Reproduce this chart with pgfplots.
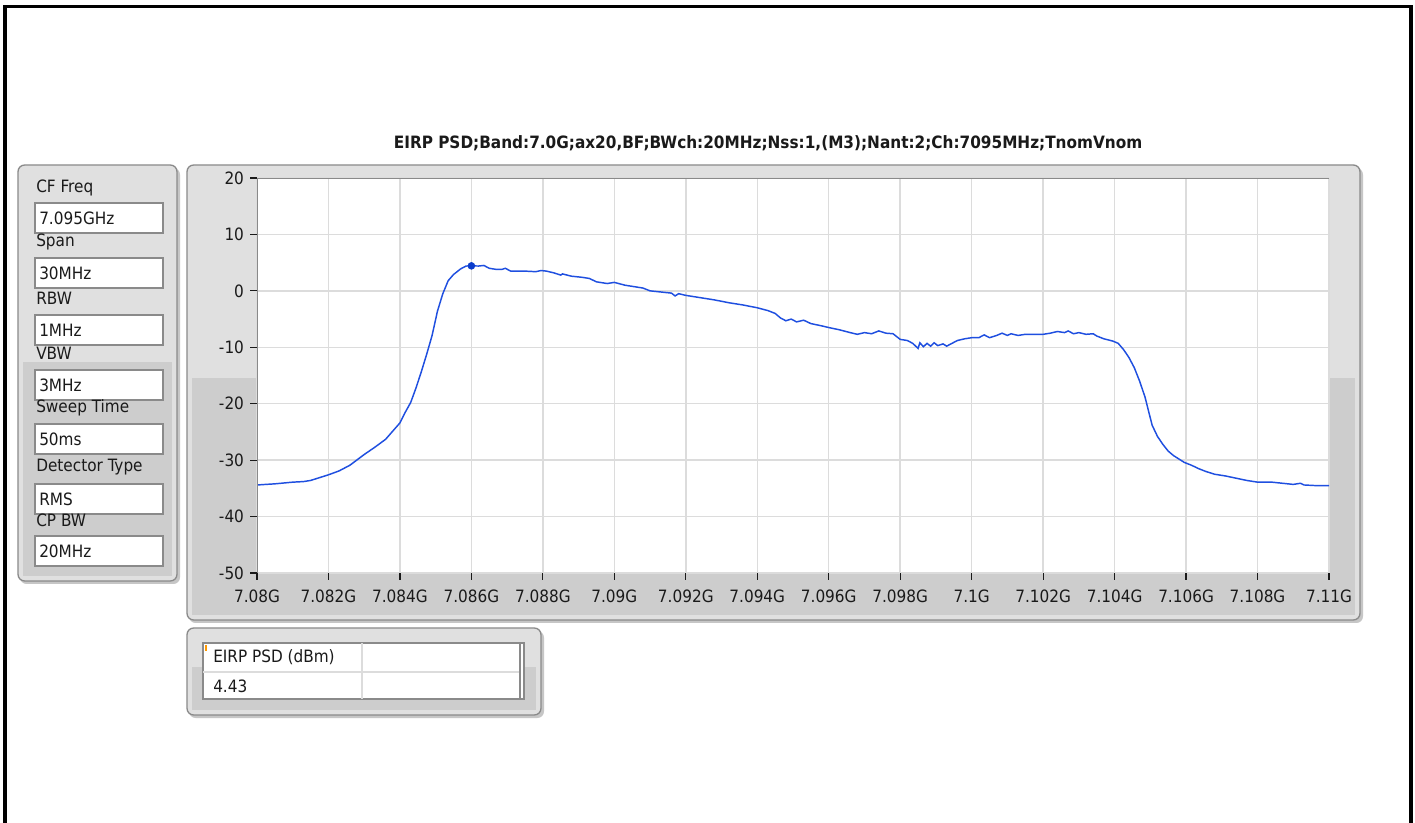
\documentclass[border=0pt]{standalone}
\usepackage{fontspec}
\setmainfont{DejaVu Sans Condensed}
\usepackage{pgfplots}
\pgfplotsset{compat=1.18}
\definecolor{panelL}{HTML}{E0E0E0}
\definecolor{panelD}{HTML}{CDCDCD}
\definecolor{gridc}{HTML}{DCDCDC}
\definecolor{curve}{HTML}{1F4FE0}
\definecolor{mark}{HTML}{0A3CCC}
\definecolor{txt}{HTML}{1A1A1A}
\definecolor{edge}{HTML}{8A8A8A}
\newcommand{\ui}{\fontsize{12.75}{15}\selectfont}
\pgfplotstableread{
f db
7080.0 -34.4
7080.5 -34.2
7081.0 -33.9
7081.3 -33.8
7081.5 -33.6
7082.0 -32.6
7082.3 -31.9
7082.6 -30.9
7083.0 -29.0
7083.3 -27.7
7083.6 -26.3
7084.0 -23.4
7084.15 -21.5
7084.3 -19.8
7084.45 -17.2
7084.6 -14.3
7084.75 -11.2
7084.9 -7.9
7085.05 -3.6
7085.2 -0.5
7085.35 1.8
7085.5 2.9
7085.7 3.9
7085.85 4.4
7086.0 4.43
7086.2 4.4
7086.35 4.5
7086.5 4.0
7086.7 3.8
7086.85 3.8
7086.95 4.0
7087.1 3.5
7087.5 3.5
7087.8 3.4
7087.95 3.6
7088.1 3.5
7088.3 3.2
7088.5 2.8
7088.55 3.0
7088.8 2.6
7089.1 2.4
7089.3 2.2
7089.5 1.6
7089.8 1.3
7090.0 1.5
7090.3 1.0
7090.6 0.7
7090.8 0.5
7091.0 0.0
7091.3 -0.2
7091.6 -0.4
7091.7 -0.9
7091.8 -0.5
7092.0 -0.8
7092.4 -1.2
7092.8 -1.6
7093.2 -2.1
7093.6 -2.5
7094.0 -3.0
7094.3 -3.5
7094.5 -4.0
7094.65 -4.8
7094.8 -5.3
7094.95 -5.0
7095.1 -5.5
7095.3 -5.2
7095.5 -5.8
7095.8 -6.2
7096.0 -6.5
7096.3 -6.9
7096.6 -7.4
7096.8 -7.7
7097.0 -7.4
7097.2 -7.6
7097.4 -7.1
7097.6 -7.5
7097.8 -7.6
7098.0 -8.6
7098.2 -8.8
7098.35 -9.3
7098.5 -10.2
7098.55 -9.2
7098.65 -9.9
7098.75 -9.3
7098.85 -9.8
7098.95 -9.2
7099.05 -9.7
7099.2 -9.4
7099.3 -9.8
7099.45 -9.3
7099.6 -8.8
7099.8 -8.5
7100.0 -8.3
7100.2 -8.3
7100.35 -7.8
7100.5 -8.3
7100.7 -7.9
7100.85 -7.5
7101.0 -7.9
7101.1 -7.6
7101.3 -7.9
7101.5 -7.7
7101.8 -7.7
7102.0 -7.7
7102.2 -7.5
7102.4 -7.2
7102.6 -7.4
7102.7 -7.1
7102.85 -7.6
7103.0 -7.4
7103.2 -7.7
7103.4 -7.6
7103.5 -8.0
7103.7 -8.5
7103.95 -8.9
7104.1 -9.3
7104.25 -10.4
7104.4 -11.8
7104.55 -13.6
7104.7 -16.0
7104.85 -18.8
7104.95 -21.3
7105.05 -23.8
7105.2 -25.8
7105.35 -27.2
7105.5 -28.4
7105.65 -29.2
7105.8 -29.8
7105.95 -30.4
7106.15 -30.9
7106.35 -31.5
7106.55 -32.0
7106.8 -32.5
7107.1 -32.8
7107.4 -33.2
7107.7 -33.6
7108.0 -33.9
7108.4 -33.9
7108.7 -34.1
7109.0 -34.3
7109.2 -34.1
7109.3 -34.4
7109.6 -34.5
7110.0 -34.5
}\spectrum
\begin{document}
\begin{tikzpicture}
\begin{scope}[x=0.75pt,y=-0.75pt]
\useasboundingbox (0,0) rectangle (1415,823);
\fill[white] (0,0) rectangle (1415,823);
% outer frame
\fill[black] (3,5) rectangle (1413,8);
\fill[black] (3,5) rectangle (7,823);
\fill[black] (1409,5) rectangle (1413,823);
% title
\node[font=\fontsize{12.75}{15}\selectfont\bfseries, text=txt] at (768,143) {EIRP PSD;Band:7.0G;ax20,BF;BWch:20MHz;Nss:1,(M3);Nant:2;Ch:7095MHz;TnomVnom};
% left settings panel
\fill[gray!45, rounded corners=5] (20,168) rectangle (180,584);
\fill[panelL, rounded corners=5] (18,165) rectangle (177,581);
\fill[panelD] (23,362) rectangle (172,576);
\draw[edge, line width=1pt, rounded corners=5] (18,165) rectangle (177,581);
\foreach \ya/\lab/\yb/\val in {188/CF Freq/203/7.095GHz, 242/Span/258/30MHz, 298/RBW/315/1MHz, 353/VBW/370/3MHz, 408/Sweep Time/424/50ms, 467/Detector Type/484/RMS, 520/CP BW/536/20MHz}{
  \filldraw[fill=white, draw=edge, line width=0.9pt] (35,\yb) rectangle (163,\yb+30);
  \node[anchor=west, font=\ui, text=txt, inner sep=0pt] at (36,\ya) {\lab};
  \node[anchor=west, font=\ui, text=txt, inner sep=0pt] at (39,\yb+15.5) {\val};
}
% main chart panel
\fill[gray!45, rounded corners=5] (189,168) rectangle (1363,623);
\fill[panelL, rounded corners=5] (187,165) rectangle (1360,620);
\fill[panelD] (192,378) rectangle (1355,615);
\draw[edge, line width=1pt, rounded corners=5] (187,165) rectangle (1360,620);
% result table panel
\fill[gray!45, rounded corners=5] (189,631) rectangle (544,718);
\fill[panelL, rounded corners=5] (187,628) rectangle (541,715);
\fill[panelD] (192,667) rectangle (536,710);
\draw[edge, line width=1pt, rounded corners=5] (187,628) rectangle (541,715);
\filldraw[fill=white, draw=edge, line width=0.9pt] (203,643) rectangle (524,699);
\draw[gridc, line width=1pt] (203,672) -- (520,672);
\draw[gridc, line width=1pt] (362,643) -- (362,699);
\draw[edge, line width=1pt] (520,643) -- (520,699);
\fill[orange!80!yellow] (205,645) rectangle (207,651);
\node[anchor=west, font=\ui, text=txt, inner sep=0pt] at (213,657.5) {EIRP PSD (dBm)};
\node[anchor=west, font=\ui, text=txt, inner sep=0pt] at (213,686) {4.43};
\end{scope}
\begin{axis}[
  at={(192.75pt,-429.75pt)}, anchor=south west,
  width=804pt, height=296.25pt, scale only axis,
  xmin=7080, xmax=7110, ymin=-50, ymax=20,
  xtick={7080,7082,...,7110},
  xticklabels={7.08G,7.082G,7.084G,7.086G,7.088G,7.09G,7.092G,7.094G,7.096G,7.098G,7.1G,7.102G,7.104G,7.106G,7.108G,7.11G},
  ytick={-50,-40,...,20},
  yticklabels={-50,-40,-30,-20,-10,0,10,20},
  grid=major, major grid style={gridc, line width=1.1pt},
  axis line style={draw=none},
  tick align=outside, major tick length=5.25pt,
  xtick pos=bottom, ytick pos=left,
  tick style={txt, line width=0.9pt},
  ticklabel style={font=\ui, text=txt},
  xticklabel style={yshift=-4pt},
  yticklabel style={xshift=-1pt},
  axis background/.style={fill=white},
]
\addplot[curve, line width=1.1pt] table[x=f, y=db] {\spectrum};
\addplot[only marks, mark=*, mark size=2.6pt, mark options={fill=mark, draw=mark}] coordinates {(7086,4.43)};
\draw[edge, line width=1.6pt] (rel axis cs:0,0) -- (rel axis cs:0,1) -- (rel axis cs:1,1);
\end{axis}
\end{tikzpicture}
\end{document}
